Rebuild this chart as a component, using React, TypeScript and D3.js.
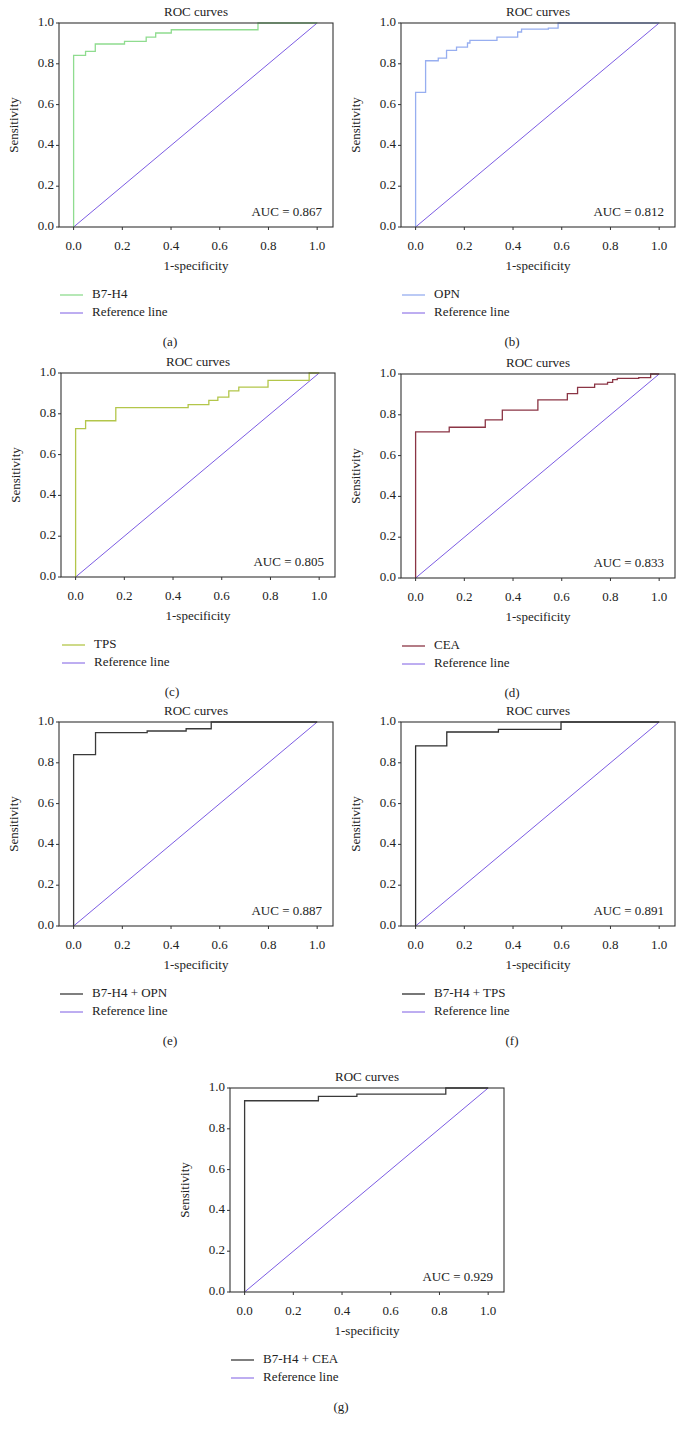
import React from "react";
import * as d3 from "d3";

// ROC step corners (1-specificity, sensitivity)
const fprA = [0, 0, 0.049, 0.089, 0.209, 0.298, 0.337, 0.401, 0.757, 1];
const tprA = [0, 0.841, 0.861, 0.897, 0.91, 0.931, 0.951, 0.967, 1, 1];

const fprB = [0, 0, 0.041, 0.093, 0.127, 0.168, 0.213, 0.223, 0.334, 0.419, 0.435, 0.545, 0.585, 1];
const tprB = [0, 0.66, 0.815, 0.828, 0.866, 0.882, 0.902, 0.915, 0.931, 0.956, 0.97, 0.975, 1, 1];

const fprC = [0, 0, 0.041, 0.165, 0.462, 0.547, 0.584, 0.629, 0.67, 0.79, 0.959, 1];
const tprC = [0, 0.727, 0.766, 0.83, 0.845, 0.866, 0.882, 0.912, 0.931, 0.964, 1, 1];

const fprD = [0, 0, 0.138, 0.286, 0.356, 0.502, 0.623, 0.665, 0.735, 0.788, 0.809, 0.828, 0.916, 0.965, 1];
const tprD = [0, 0.716, 0.739, 0.775, 0.823, 0.873, 0.904, 0.934, 0.95, 0.959, 0.972, 0.979, 0.982, 1, 1];

const fprE = [0, 0, 0.09, 0.302, 0.462, 0.565, 1];
const tprE = [0, 0.84, 0.948, 0.956, 0.967, 1, 1];

const fprF = [0, 0, 0.128, 0.34, 0.597, 1];
const tprF = [0, 0.883, 0.951, 0.964, 1, 1];

const fprG = [0, 0, 0.303, 0.461, 0.826, 1];
const tprG = [0, 0.9375, 0.959, 0.97, 1, 1];

const markers = ["B7-H4", "OPN", "TPS", "CEA", "B7-H4 + OPN", "B7-H4 + TPS", "B7-H4 + CEA"];
const aucs = ["0.867", "0.812", "0.805", "0.833", "0.887", "0.891", "0.929"];
const panelLabels = ["(a)", "(b)", "(c)", "(d)", "(e)", "(f)", "(g)"];
const curveColors = ["#8fdc8f", "#97aef0", "#b3c64a", "#8b3545", "#3a3a3a", "#2e2e2e", "#3a3a3a"];
const ticks = [0, 0.2, 0.4, 0.6, 0.8, 1.0];
const refLine = [[0, 0], [1, 1]];

const FPRS = [fprA, fprB, fprC, fprD, fprE, fprF, fprG];
const TPRS = [tprA, tprB, tprC, tprD, tprE, tprF, tprG];

// box top-left of each panel
const positions = [
  [59, 23], [401, 23],
  [61, 373], [401, 374],
  [59, 722], [401, 722],
  [230, 1088],
];

const W = 274, H = 204;
const FONT = "'Liberation Serif', 'DejaVu Serif', serif";
const REF_COLOR = "#7c5ce3";
const AXIS = "#333";
const FS = 13;

const Panel = ({ i }) => {
  const [left, top] = positions[i];
  const x = d3.scaleLinear().domain([-0.06, 1.065]).range([0, W]);
  const y = d3.scaleLinear().domain([0, 1]).range([H, 0]);
  const pts = FPRS[i].map((f, k) => [f, TPRS[i][k]]);
  const step = d3.line().x(d => x(d[0])).y(d => y(d[1])).curve(d3.curveStepAfter);
  const straight = d3.line().x(d => x(d[0])).y(d => y(d[1]));

  return (
    <g transform={`translate(${left},${top})`} fontFamily={FONT} fill="#222">
      <text x={W / 2} y={-10} textAnchor="middle" dominantBaseline="middle" fontSize={FS}>ROC curves</text>

      <path d={straight(refLine)} stroke={REF_COLOR} strokeWidth={1} fill="none" />
      <path d={step(pts)} stroke={curveColors[i]} strokeWidth={1.3} fill="none" />

      <rect x={0} y={0} width={W} height={H} fill="none" stroke={AXIS} strokeWidth={1.1} />

      {ticks.map(t => (
        <g key={"y" + t}>
          <line x1={-3} x2={0} y1={y(t)} y2={y(t)} stroke={AXIS} />
          <text x={-5} y={y(t)} textAnchor="end" dominantBaseline="middle" fontSize={FS}>{t.toFixed(1)}</text>
        </g>
      ))}
      {ticks.map(t => (
        <g key={"x" + t}>
          <line x1={x(t)} x2={x(t)} y1={H} y2={H + 3} stroke={AXIS} />
          <text x={x(t)} y={H + 20} textAnchor="middle" dominantBaseline="middle" fontSize={FS}>{t.toFixed(1)}</text>
        </g>
      ))}

      <text x={W - 11} y={H - 14} textAnchor="end" dominantBaseline="middle" fontSize={FS}>AUC = {aucs[i]}</text>

      <text x={W / 2} y={H + 40} textAnchor="middle" dominantBaseline="middle" fontSize={FS}>1-specificity</text>
      <text transform={`translate(${-44},${H / 2}) rotate(-90)`} textAnchor="middle" dominantBaseline="middle" fontSize={FS}>Sensitivity</text>

      <line x1={1} x2={24} y1={H + 68} y2={H + 68} stroke={curveColors[i]} strokeWidth={1.3} />
      <text x={33} y={H + 68} dominantBaseline="middle" fontSize={FS}>{markers[i]}</text>
      <line x1={1} x2={24} y1={H + 86} y2={H + 86} stroke={REF_COLOR} strokeWidth={1} />
      <text x={33} y={H + 86} dominantBaseline="middle" fontSize={FS}>Reference line</text>

      <text x={111} y={H + 116} textAnchor="middle" dominantBaseline="middle" fontSize={FS}>{panelLabels[i]}</text>
    </g>
  );
};

export default function App() {
  return (
    <svg width={684} height={1430} style={{ position: "absolute", left: 0, top: 0, background: "white" }}>
      {markers.map((_, i) => <Panel key={i} i={i} />)}
    </svg>
  );
}
